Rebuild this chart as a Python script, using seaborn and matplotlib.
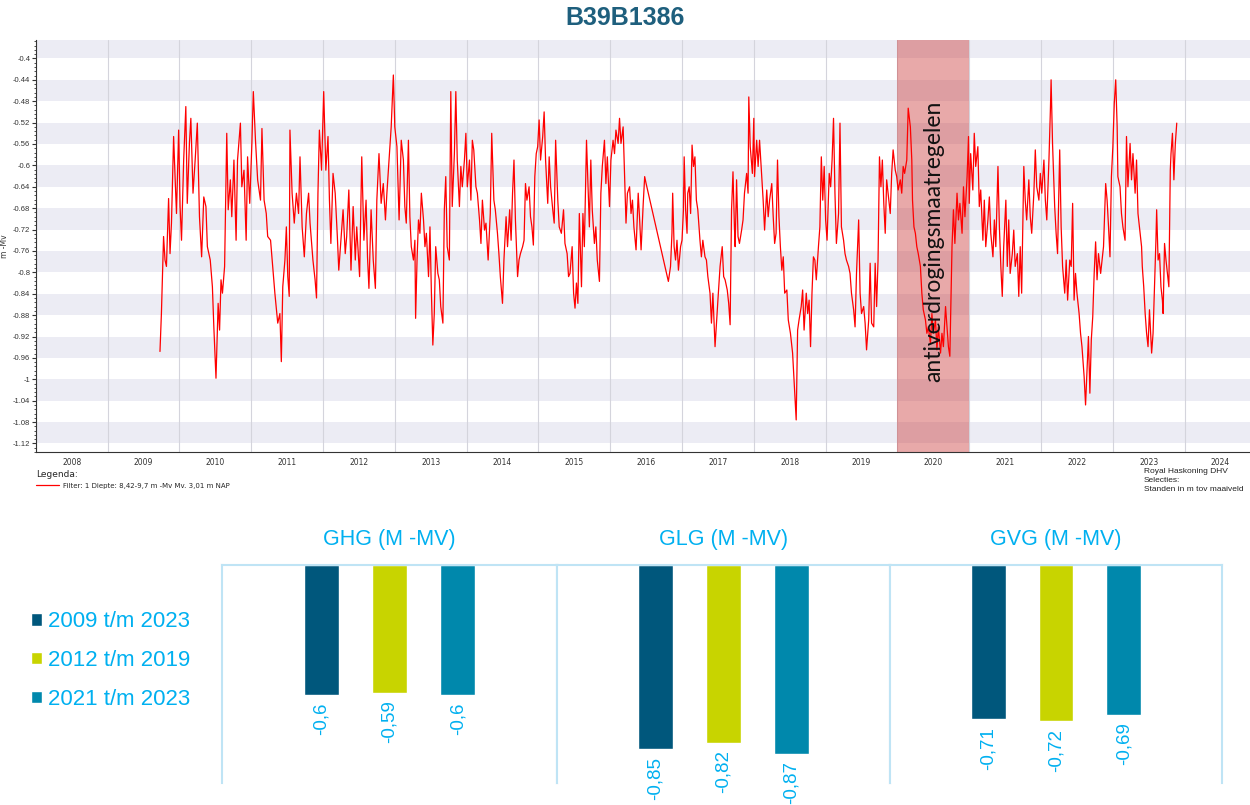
import numpy as np
import pandas as pd
import seaborn as sns
import matplotlib.pyplot as plt
from matplotlib.ticker import MultipleLocator, FixedLocator, NullFormatter
from matplotlib.patches import Patch

# 1. Grondwaterstand B39B1386 (decimaal jaar, m -Mv)
seg_2009_2013 = [
    (2009.73, -0.948), (2009.75, -0.877), (2009.78, -0.733), (2009.80, -0.777), (2009.82, -0.789),
    (2009.85, -0.662), (2009.87, -0.765), (2009.89, -0.708), (2009.92, -0.546), (2009.94, -0.621),
    (2009.96, -0.690), (2009.99, -0.534), (2010.01, -0.677), (2010.03, -0.740), (2010.06, -0.590),
    (2010.09, -0.490), (2010.11, -0.671), (2010.14, -0.559), (2010.16, -0.512), (2010.19, -0.652),
    (2010.22, -0.590), (2010.25, -0.521), (2010.28, -0.696), (2010.31, -0.771), (2010.34, -0.659),
    (2010.37, -0.677), (2010.39, -0.752), (2010.43, -0.777), (2010.46, -0.827), (2010.48, -0.902),
    (2010.51, -0.998), (2010.54, -0.858), (2010.56, -0.908), (2010.58, -0.814), (2010.60, -0.839),
    (2010.63, -0.789), (2010.66, -0.540), (2010.68, -0.683), (2010.71, -0.627), (2010.73, -0.696),
    (2010.76, -0.590), (2010.79, -0.740), (2010.81, -0.590), (2010.85, -0.521), (2010.87, -0.640),
    (2010.90, -0.609), (2010.93, -0.740), (2010.95, -0.584), (2010.98, -0.671), (2011.01, -0.559),
    (2011.03, -0.462), (2011.06, -0.553), (2011.09, -0.627), (2011.13, -0.665), (2011.15, -0.531),
    (2011.18, -0.665), (2011.21, -0.690), (2011.23, -0.733), (2011.27, -0.740), (2011.30, -0.789),
    (2011.33, -0.839), (2011.37, -0.895), (2011.40, -0.877), (2011.42, -0.967), (2011.44, -0.827),
    (2011.47, -0.777), (2011.49, -0.715), (2011.51, -0.808), (2011.53, -0.845), (2011.54, -0.534),
    (2011.57, -0.652), (2011.60, -0.708), (2011.63, -0.652), (2011.66, -0.690), (2011.68, -0.584),
    (2011.71, -0.715), (2011.74, -0.771), (2011.77, -0.690), (2011.80, -0.652), (2011.82, -0.708),
    (2011.86, -0.777), (2011.89, -0.814), (2011.91, -0.848), (2011.93, -0.652), (2011.95, -0.534),
    (2011.98, -0.609), (2012.01, -0.462), (2012.04, -0.609), (2012.07, -0.546), (2012.09, -0.665),
    (2012.11, -0.746), (2012.14, -0.615), (2012.17, -0.652), (2012.20, -0.733), (2012.22, -0.796),
    (2012.25, -0.740), (2012.28, -0.683), (2012.31, -0.765), (2012.33, -0.733), (2012.36, -0.646),
    (2012.39, -0.796), (2012.42, -0.677), (2012.45, -0.777), (2012.47, -0.715), (2012.51, -0.808),
    (2012.54, -0.584), (2012.57, -0.740), (2012.60, -0.665), (2012.62, -0.771), (2012.64, -0.830),
    (2012.67, -0.683), (2012.70, -0.777), (2012.73, -0.830), (2012.75, -0.665), (2012.78, -0.578),
    (2012.81, -0.671), (2012.84, -0.634), (2012.87, -0.702), (2012.89, -0.652), (2012.92, -0.590),
    (2012.95, -0.528), (2012.98, -0.431), (2013.00, -0.528), (2013.03, -0.565), (2013.06, -0.702),
    (2013.09, -0.553),
]
seg_2013_2016 = [
    (2013.12, -0.590), (2013.14, -0.677), (2013.16, -0.708), (2013.19, -0.553), (2013.21, -0.696),
    (2013.23, -0.752), (2013.26, -0.777), (2013.28, -0.740), (2013.29, -0.886), (2013.31, -0.777),
    (2013.33, -0.702), (2013.35, -0.727), (2013.37, -0.652), (2013.40, -0.702), (2013.42, -0.752),
    (2013.44, -0.727), (2013.47, -0.808), (2013.49, -0.715), (2013.51, -0.839), (2013.53, -0.936),
    (2013.55, -0.877), (2013.57, -0.752), (2013.60, -0.802), (2013.62, -0.814), (2013.64, -0.864),
    (2013.67, -0.895), (2013.69, -0.683), (2013.71, -0.621), (2013.73, -0.752), (2013.76, -0.777),
    (2013.78, -0.462), (2013.80, -0.677), (2013.83, -0.578), (2013.85, -0.462), (2013.87, -0.590),
    (2013.90, -0.677), (2013.92, -0.602), (2013.94, -0.640), (2013.97, -0.590), (2013.99, -0.540),
    (2014.01, -0.640), (2014.04, -0.590), (2014.06, -0.665), (2014.08, -0.553), (2014.10, -0.571),
    (2014.13, -0.640), (2014.15, -0.652), (2014.18, -0.702), (2014.20, -0.746), (2014.22, -0.665),
    (2014.25, -0.721), (2014.27, -0.708), (2014.30, -0.777), (2014.33, -0.690), (2014.35, -0.540),
    (2014.38, -0.665), (2014.40, -0.683), (2014.43, -0.727), (2014.45, -0.765), (2014.47, -0.808),
    (2014.50, -0.858), (2014.52, -0.777), (2014.55, -0.696), (2014.57, -0.752), (2014.60, -0.683),
    (2014.62, -0.740), (2014.64, -0.652), (2014.66, -0.590), (2014.68, -0.702), (2014.71, -0.808),
    (2014.73, -0.777), (2014.75, -0.765), (2014.78, -0.752), (2014.80, -0.740), (2014.82, -0.634),
    (2014.84, -0.665), (2014.87, -0.640), (2014.89, -0.696), (2014.91, -0.715), (2014.93, -0.749),
    (2014.95, -0.621), (2014.97, -0.578), (2014.99, -0.565), (2015.01, -0.515), (2015.03, -0.590),
    (2015.06, -0.546), (2015.08, -0.500), (2015.10, -0.590), (2015.13, -0.671), (2015.15, -0.584),
    (2015.17, -0.640), (2015.20, -0.683), (2015.22, -0.708), (2015.24, -0.553), (2015.27, -0.665),
    (2015.29, -0.715), (2015.32, -0.727), (2015.35, -0.683), (2015.37, -0.746), (2015.40, -0.765),
    (2015.42, -0.808), (2015.44, -0.802), (2015.47, -0.752), (2015.49, -0.839), (2015.51, -0.867),
    (2015.53, -0.820), (2015.55, -0.858), (2015.57, -0.690), (2015.60, -0.827), (2015.62, -0.690),
    (2015.64, -0.752), (2015.67, -0.553), (2015.69, -0.634), (2015.71, -0.715), (2015.73, -0.590),
    (2015.75, -0.683), (2015.78, -0.746), (2015.80, -0.715), (2015.82, -0.777), (2015.85, -0.817),
    (2015.87, -0.652), (2015.89, -0.602), (2015.92, -0.553), (2015.94, -0.634), (2015.96, -0.584),
    (2015.99, -0.677), (2016.01, -0.590), (2016.04, -0.553), (2016.06, -0.578), (2016.08, -0.534),
    (2016.11, -0.559), (2016.13, -0.512), (2016.15, -0.559), (2016.18, -0.528), (2016.20, -0.621),
    (2016.22, -0.708), (2016.24, -0.652), (2016.27, -0.640), (2016.29, -0.690), (2016.31, -0.665),
    (2016.33, -0.715), (2016.36, -0.758), (2016.39, -0.652), (2016.41, -0.702), (2016.43, -0.758),
    (2016.46, -0.671), (2016.48, -0.621), (2016.50, -0.634),
]
seg_2016_2020 = [
    (2016.81, -0.817), (2016.84, -0.789), (2016.86, -0.727), (2016.87, -0.652), (2016.89, -0.752),
    (2016.91, -0.777), (2016.93, -0.740), (2016.95, -0.796), (2016.98, -0.752), (2017.00, -0.740),
    (2017.02, -0.683), (2017.03, -0.584), (2017.05, -0.683), (2017.07, -0.727), (2017.08, -0.652),
    (2017.10, -0.640), (2017.12, -0.690), (2017.14, -0.562), (2017.16, -0.602), (2017.18, -0.584),
    (2017.20, -0.665), (2017.22, -0.683), (2017.25, -0.740), (2017.27, -0.771), (2017.29, -0.740),
    (2017.32, -0.771), (2017.34, -0.777), (2017.36, -0.808), (2017.39, -0.839), (2017.41, -0.895),
    (2017.43, -0.839), (2017.46, -0.939), (2017.48, -0.895), (2017.50, -0.852), (2017.53, -0.789),
    (2017.54, -0.777), (2017.56, -0.752), (2017.58, -0.808), (2017.60, -0.814), (2017.63, -0.833),
    (2017.65, -0.858), (2017.67, -0.898), (2017.69, -0.683), (2017.71, -0.612), (2017.73, -0.715),
    (2017.74, -0.752), (2017.76, -0.627), (2017.78, -0.733), (2017.80, -0.746), (2017.83, -0.721),
    (2017.85, -0.702), (2017.87, -0.652), (2017.90, -0.615), (2017.92, -0.652), (2017.93, -0.472),
    (2017.95, -0.565), (2017.98, -0.615), (2018.00, -0.512), (2018.01, -0.621), (2018.04, -0.553),
    (2018.06, -0.602), (2018.08, -0.553), (2018.11, -0.621), (2018.13, -0.665), (2018.15, -0.721),
    (2018.18, -0.646), (2018.20, -0.696), (2018.22, -0.665), (2018.25, -0.634), (2018.27, -0.696),
    (2018.29, -0.746), (2018.31, -0.727), (2018.33, -0.590), (2018.35, -0.696), (2018.37, -0.752),
    (2018.39, -0.796), (2018.41, -0.771), (2018.43, -0.839), (2018.46, -0.833), (2018.48, -0.889),
    (2018.51, -0.914), (2018.54, -0.951), (2018.56, -1.001), (2018.59, -1.076), (2018.61, -0.908),
    (2018.63, -0.889), (2018.66, -0.864), (2018.68, -0.833), (2018.70, -0.908), (2018.73, -0.839),
    (2018.75, -0.877), (2018.77, -0.852), (2018.79, -0.939), (2018.81, -0.839), (2018.83, -0.771),
    (2018.85, -0.777), (2018.87, -0.814), (2018.90, -0.752), (2018.92, -0.715), (2018.94, -0.584),
    (2018.96, -0.665), (2018.98, -0.602), (2019.00, -0.702), (2019.02, -0.740), (2019.05, -0.615),
    (2019.07, -0.640), (2019.09, -0.590), (2019.11, -0.512), (2019.13, -0.652), (2019.15, -0.746),
    (2019.18, -0.690), (2019.20, -0.521), (2019.22, -0.715), (2019.25, -0.740), (2019.27, -0.765),
    (2019.29, -0.777), (2019.32, -0.789), (2019.34, -0.802), (2019.36, -0.839), (2019.39, -0.870),
    (2019.41, -0.902), (2019.43, -0.802), (2019.46, -0.702), (2019.48, -0.839), (2019.50, -0.877),
    (2019.53, -0.864), (2019.55, -0.895), (2019.57, -0.945), (2019.60, -0.889), (2019.62, -0.783),
    (2019.64, -0.895), (2019.67, -0.902), (2019.69, -0.783), (2019.71, -0.864), (2019.73, -0.777),
    (2019.75, -0.584), (2019.77, -0.640), (2019.79, -0.590), (2019.81, -0.671), (2019.83, -0.727),
    (2019.85, -0.627), (2019.87, -0.652), (2019.90, -0.690), (2019.92, -0.615), (2019.94, -0.571),
    (2019.97, -0.609), (2019.99, -0.621), (2020.01, -0.646), (2020.04, -0.627), (2020.06, -0.652),
    (2020.08, -0.602), (2020.10, -0.615), (2020.13, -0.590), (2020.15, -0.493), (2020.18, -0.528),
]
seg_2020_2023 = [
    (2020.20, -0.590), (2020.21, -0.665), (2020.23, -0.715), (2020.25, -0.727), (2020.27, -0.752),
    (2020.29, -0.765), (2020.32, -0.789), (2020.34, -0.839), (2020.36, -0.870), (2020.39, -0.889),
    (2020.41, -0.914), (2020.43, -0.902), (2020.46, -0.933), (2020.48, -0.877), (2020.50, -0.914),
    (2020.53, -0.889), (2020.55, -0.945), (2020.57, -0.902), (2020.60, -0.951), (2020.62, -0.914),
    (2020.64, -0.939), (2020.67, -0.864), (2020.69, -0.902), (2020.71, -0.939), (2020.73, -0.957),
    (2020.75, -0.827), (2020.76, -0.752), (2020.78, -0.683), (2020.80, -0.746), (2020.83, -0.652),
    (2020.85, -0.702), (2020.87, -0.671), (2020.90, -0.727), (2020.92, -0.640), (2020.94, -0.696),
    (2020.97, -0.621), (2020.99, -0.546), (2021.00, -0.671), (2021.02, -0.578), (2021.05, -0.646),
    (2021.07, -0.540), (2021.09, -0.602), (2021.12, -0.565), (2021.14, -0.677), (2021.16, -0.646),
    (2021.19, -0.740), (2021.21, -0.665), (2021.23, -0.752), (2021.26, -0.702), (2021.28, -0.659),
    (2021.30, -0.727), (2021.33, -0.771), (2021.35, -0.702), (2021.37, -0.752), (2021.40, -0.602),
    (2021.42, -0.715), (2021.44, -0.789), (2021.46, -0.845), (2021.48, -0.752), (2021.51, -0.665),
    (2021.53, -0.789), (2021.55, -0.702), (2021.57, -0.802), (2021.60, -0.765), (2021.62, -0.721),
    (2021.64, -0.789), (2021.67, -0.765), (2021.69, -0.845), (2021.71, -0.752), (2021.73, -0.839),
    (2021.76, -0.602), (2021.78, -0.665), (2021.80, -0.702), (2021.83, -0.627), (2021.85, -0.696),
    (2021.87, -0.727), (2021.90, -0.652), (2021.92, -0.571), (2021.94, -0.640), (2021.97, -0.665),
    (2021.99, -0.615), (2022.01, -0.652), (2022.04, -0.590), (2022.06, -0.665), (2022.08, -0.702),
    (2022.11, -0.590), (2022.13, -0.497), (2022.14, -0.440), (2022.16, -0.559), (2022.19, -0.677),
    (2022.21, -0.727), (2022.23, -0.765), (2022.26, -0.571), (2022.28, -0.715), (2022.30, -0.789),
    (2022.33, -0.839), (2022.35, -0.777), (2022.37, -0.852), (2022.40, -0.777), (2022.42, -0.789),
    (2022.44, -0.671), (2022.46, -0.852), (2022.48, -0.802), (2022.50, -0.839), (2022.53, -0.877),
    (2022.55, -0.914), (2022.57, -0.939), (2022.60, -0.995), (2022.62, -1.048), (2022.64, -0.982),
    (2022.66, -0.920), (2022.68, -1.026), (2022.70, -0.926), (2022.72, -0.883), (2022.74, -0.802),
    (2022.76, -0.743), (2022.78, -0.814), (2022.80, -0.765), (2022.83, -0.802), (2022.85, -0.777),
    (2022.87, -0.752), (2022.90, -0.634), (2022.92, -0.665), (2022.94, -0.715), (2022.96, -0.771),
    (2022.98, -0.621), (2023.00, -0.565), (2023.02, -0.484), (2023.04, -0.440), (2023.06, -0.528),
    (2023.07, -0.621), (2023.10, -0.640), (2023.12, -0.690), (2023.14, -0.715), (2023.17, -0.740),
    (2023.19, -0.546), (2023.21, -0.640), (2023.24, -0.559), (2023.26, -0.627), (2023.28, -0.578),
    (2023.31, -0.652), (2023.33, -0.590), (2023.35, -0.690), (2023.37, -0.715), (2023.40, -0.752),
    (2023.41, -0.789), (2023.43, -0.827), (2023.45, -0.877), (2023.47, -0.914), (2023.49, -0.939),
    (2023.51, -0.870), (2023.53, -0.926), (2023.54, -0.951), (2023.56, -0.914), (2023.58, -0.827),
    (2023.60, -0.740), (2023.61, -0.683), (2023.63, -0.777), (2023.65, -0.765), (2023.67, -0.827),
    (2023.69, -0.852), (2023.70, -0.877), (2023.72, -0.746), (2023.74, -0.777), (2023.76, -0.802),
    (2023.78, -0.827), (2023.80, -0.609), (2023.81, -0.578), (2023.83, -0.540), (2023.85, -0.627),
    (2023.87, -0.559), (2023.89, -0.521),
]
segments = [seg_2009_2013, seg_2013_2016, seg_2016_2020, seg_2020_2023]

maatregel_jaar = (2020, 2021)
years = list(range(2008, 2025))

# 2. Gemiddelde grondwaterstanden (m -MV)
indicators = ['GHG', 'GLG', 'GVG']
periods = ['2009 t/m 2023', '2012 t/m 2019', '2021 t/m 2023']
ghg = [-0.60, -0.59, -0.60]
glg = [-0.85, -0.82, -0.87]
gvg = [-0.71, -0.72, -0.69]
bar_colors = ['#00577c', '#c8d400', '#0088ac']

series = pd.DataFrame({
    'datum': [p[0] for seg in segments for p in seg],
    'stand': [p[1] for seg in segments for p in seg],
})
bars = pd.DataFrame({
    'indicator': np.repeat(indicators, len(periods)),
    'periode': periods * len(indicators),
    'waarde': ghg + glg + gvg,
})

sns.set_style('white')
plt.rcParams['font.family'] = ['DejaVu Sans']
cyan = '#00b0f0'

fig = plt.figure(figsize=(12.5, 8.05), dpi=100)

# 3. Tijdreeks bovenaan
ax = fig.add_axes([0.0286, 0.4385, 0.9714, 0.5115])
ax.set_xlim(2008, 2024.91)
ax.set_ylim(-1.136, -0.366)

yticks = np.round(np.arange(-1.12, -0.399, 0.04), 2)
for top in np.round(np.arange(-0.36, -1.1, -0.08), 2):
    ax.axhspan(top - 0.04, top, color='#ececf4', lw=0, zorder=0)
ax.axvspan(*maatregel_jaar, color='#cc4040', alpha=0.45, lw=0, zorder=1)

sns.lineplot(data=series, x='datum', y='stand', color='#ff0000', linewidth=0.9,
             estimator=None, sort=False, ax=ax, zorder=3,
             label='Filter: 1 Diepte: 8,42-9,7 m -Mv Mv. 3,01 m NAP')

ax.text(sum(maatregel_jaar) / 2, -0.742, 'antiverdrogingsmaatregelen', rotation=90,
        ha='center', va='center', fontsize=16.5, family='Lato', color='#111111', zorder=4)

ax.set_xticks(years)
ax.xaxis.set_minor_locator(FixedLocator([y + 0.5 for y in years]))
ax.xaxis.set_major_formatter(NullFormatter())
ax.set_xticklabels([str(y) for y in years], minor=True)
ax.grid(axis='x', which='major', color='#d4d4dc', lw=0.8, zorder=0.5)
ax.tick_params(axis='x', which='major', length=3, width=0.8, color='#333333', direction='out')
ax.tick_params(axis='x', which='minor', length=0, labelsize=5.5, pad=4, labelcolor='#333333')

ax.set_yticks(yticks)
ax.set_yticklabels([f'{v:g}' for v in yticks], family='Liberation Sans')
ax.yaxis.set_minor_locator(MultipleLocator(0.008))
ax.tick_params(axis='y', which='major', length=3, width=0.8, labelsize=5.5, pad=1,
               color='#333333', labelcolor='#333333', left=True)
ax.tick_params(axis='y', which='minor', length=1.5, width=0.6, color='#333333', left=True)
ax.set_xlabel('')
ax.set_ylabel('m -Mv', fontsize=5.5, labelpad=3, color='#333333')
for side in ['top', 'right']:
    ax.spines[side].set_visible(False)
for side in ['left', 'bottom']:
    ax.spines[side].set_color('#333333')
    ax.spines[side].set_linewidth(0.8)

leg = ax.legend(loc='upper left', bbox_to_anchor=(0.0, -0.044), title='Legenda:',
                fontsize=5, title_fontsize=6.5, frameon=False, handlelength=3.3,
                borderaxespad=0, borderpad=0, handletextpad=0.6)
leg._legend_box.align = 'left'
for h in leg.legend_handles:
    h.set_color('#ff0000')
    h.set_linewidth(0.9)

fig.text(0.5, 0.978, 'B39B1386', ha='center', va='center', fontsize=18,
         fontweight='bold', color='#1e5f7d', family='Liberation Sans')
fig.text(0.915, 0.419, 'Royal Haskoning DHV\nSelecties:\nStanden in m tov maaiveld',
         ha='left', va='top', fontsize=6.0, linespacing=1.4, color='#222222',
         family='Liberation Sans')

# 4. Staafdiagrammen GHG / GLG / GVG
lefts = [0.1776, 0.4456, 0.712]
widths = [0.268, 0.2664, 0.2656]
for i, ind in enumerate(indicators):
    bx = fig.add_axes([lefts[i], 0.0273, widths[i], 0.2708])
    sub = bars[bars['indicator'] == ind]
    sns.barplot(data=sub, x='periode', y='waarde', hue='periode', order=periods,
                hue_order=periods, palette=bar_colors, saturation=1, width=0.51,
                legend=False, ax=bx)
    bx.set_ylim(-1.005, 0)
    bx.set_xlim(-1.45, 3.45)
    bx.set_xticks([])
    bx.set_yticks([])
    bx.set_xlabel('')
    bx.set_ylabel('')
    for side in ['top', 'left', 'right']:
        bx.spines[side].set_color('#bfe4f5')
        bx.spines[side].set_linewidth(1.5)
    bx.spines['bottom'].set_visible(False)
    for j, v in enumerate(sub['waarde']):
        bx.text(j, v - 0.035, f'{v:g}'.replace('.', ','), rotation=90, ha='center', va='top',
                fontsize=13.5, color=cyan, family='Liberation Sans')
    bx.text(0.5, 1.115, f'{ind} (M -MV)', transform=bx.transAxes, ha='center', va='center',
            fontsize=15.5, color=cyan, family='Liberation Sans')

handles = [Patch(facecolor=c, label=p) for c, p in zip(bar_colors, periods)]
fig.legend(handles=handles, loc='center left', bbox_to_anchor=(0.025, 0.1795), frameon=False,
           labelcolor=cyan, handlelength=0.5, handleheight=0.5,
           handletextpad=0.25, labelspacing=0.8, borderpad=0, borderaxespad=0,
           prop={'family': 'Liberation Sans', 'size': 16})

fig.savefig('out.png', dpi=100)
plt.close(fig)
